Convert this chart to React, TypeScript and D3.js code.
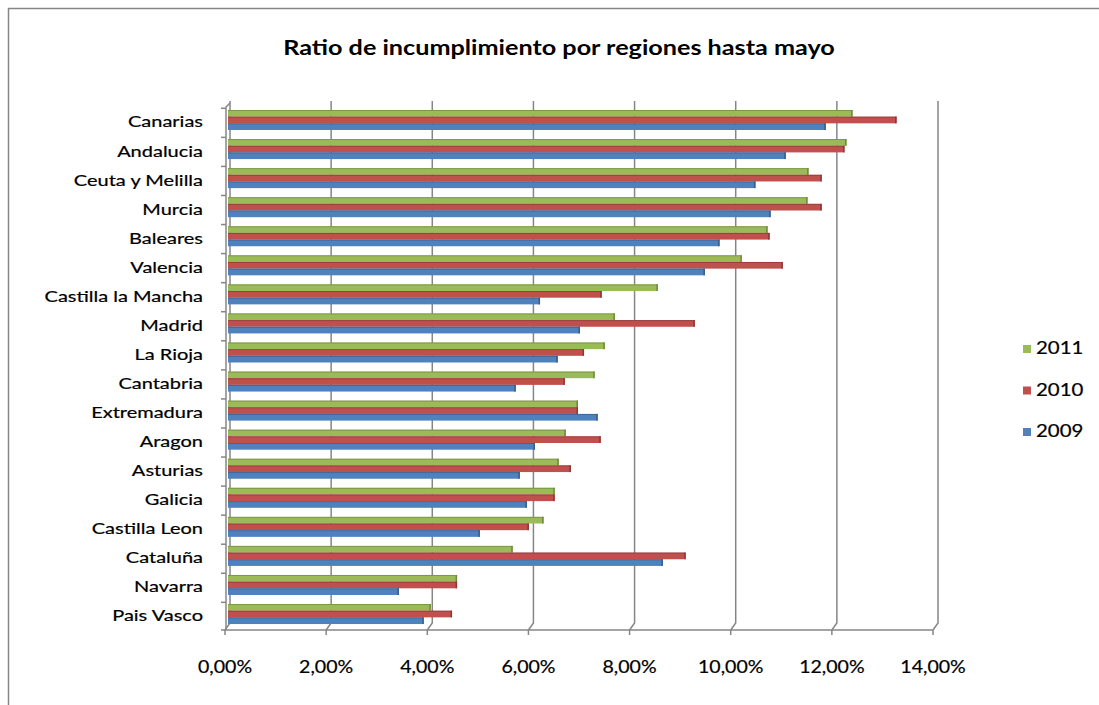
import React from "react";
import * as d3 from "d3";

const regions = [
  "Canarias", "Andalucia", "Ceuta y Melilla", "Murcia", "Baleares", "Valencia",
  "Castilla la Mancha", "Madrid", "La Rioja", "Cantabria", "Extremadura", "Aragon",
  "Asturias", "Galicia", "Castilla Leon", "Cataluña", "Navarra", "Pais Vasco",
];
const v2011 = [12.37, 12.25, 11.5, 11.48, 10.69, 10.18, 8.52, 7.67, 7.47, 7.27, 6.94, 6.7, 6.56, 6.48, 6.26, 5.65, 4.55, 4.03];
const v2010 = [13.24, 12.21, 11.76, 11.76, 10.73, 10.99, 7.41, 9.25, 7.06, 6.68, 6.94, 7.39, 6.8, 6.48, 5.97, 9.07, 4.55, 4.45];
const v2009 = [11.84, 11.05, 10.45, 10.75, 9.74, 9.45, 6.19, 6.98, 6.54, 5.71, 7.33, 6.09, 5.79, 5.93, 5.0, 8.62, 3.4, 3.89];
const seriesNames = ["2011", "2010", "2009"];
const seriesColors = ["#9BBB59", "#C0504D", "#4F81BD"];
const seriesDark = ["#71893F", "#8C3836", "#385D8A"];
const xTicks = [0, 2, 4, 6, 8, 10, 12, 14];
const title = "Ratio de incumplimiento por regiones hasta mayo";

const W = 1099;
const H = 705;
const FONT = "Lato, 'Open Sans', sans-serif";

export default function App() {
  const x = d3.scaleLinear().domain([0, 14]).range([227, 935]);
  const y = d3.scaleBand<string>().domain(regions).range([106.5, 629.6]).padding(0);
  const sub = d3.scaleBand<string>().domain(seriesNames).range([3.5, 23.5]).padding(0);
  const series = [v2011, v2010, v2009];
  const fmt = (v: number) => v.toFixed(2).replace(".", ",") + "%";
  const backTop = 101;
  const backBottom = 623;
  const frontY = 630;

  return (
    <svg width={W} height={H} style={{ position: "absolute", left: 0, top: 0 }}>
      <rect x={0} y={0} width={W} height={H} fill="#fff" />
      <rect x={8.5} y={8.5} width={W + 10} height={H + 10} fill="none" stroke="#868686" strokeWidth={1.5} />
      <g transform="translate(559,55) scale(1.2,1)">
        <text x={0} y={0} textAnchor="middle" fontFamily={FONT} fontWeight="bold" fontSize={21} fill="#000">
          {title}
        </text>
      </g>

      {/* back wall gridlines */}
      {xTicks.map((t) => (
        <path
          key={"g" + t}
          d={`M${x(t) + 3},${backTop} L${x(t) + 3},${backBottom} L${x(t) - 2},${frontY}`}
          fill="none"
          stroke="#868686"
          strokeWidth={1.5}
        />
      ))}
      {/* front axis */}
      <line x1={x(0) - 2} x2={x(14) - 2} y1={frontY} y2={frontY} stroke="#868686" strokeWidth={1.5} />
      {xTicks.map((t) => (
        <line key={"t" + t} x1={x(t) - 2} x2={x(t) - 2} y1={frontY} y2={frontY + 5} stroke="#868686" strokeWidth={1.5} />
      ))}
      {/* y axis */}
      <path d={`M${x(0) + 3},${backTop + 2} L${x(0) - 1},${backTop + 6} L${x(0) - 1},${frontY}`} fill="none" stroke="#868686" strokeWidth={1.5} />
      {regions.map((r) => (
        <line key={"yt" + r} x1={x(0) - 6} x2={x(0) - 1} y1={(y(r) as number) + 1.8} y2={(y(r) as number) + 1.8} stroke="#868686" strokeWidth={1.5} />
      ))}
      <line x1={x(0) - 6} x2={x(0) - 1} y1={frontY} y2={frontY} stroke="#868686" strokeWidth={1.5} />

      {/* bars */}
      {regions.map((r, i) => (
        <g key={"b" + r}>
          {series.map((vals, s) => {
            const by = (y(r) as number) + (sub(seriesNames[s]) as number);
            const bh = sub.bandwidth();
            const bx = x(0) + 1;
            const bw = x(vals[i]) - bx;
            return (
              <g key={s}>
                <rect x={bx} y={by} width={bw} height={bh} fill={seriesColors[s]} />
                <line x1={bx} x2={bx + bw} y1={by + 0.5} y2={by + 0.5} stroke={seriesDark[s]} strokeWidth={1} opacity={0.7} />
                <rect x={bx + bw - 1.5} y={by} width={1.5} height={bh} fill={seriesDark[s]} />
              </g>
            );
          })}
        </g>
      ))}

      {/* category labels */}
      {regions.map((r) => (
        <g key={"l" + r} transform={`translate(203,${(y(r) as number) + y.bandwidth() / 2 + 2.5}) scale(1.29,1)`}>
          <text
            x={0}
            y={0}
            textAnchor="end"
            dominantBaseline="middle"
            fontFamily={FONT}
            fontSize={15.5}
            fill="#000"
            stroke="#000"
            strokeWidth={0.2}
          >
            {r}
          </text>
        </g>
      ))}

      {/* x tick labels */}
      {xTicks.map((t) => (
        <g key={"xl" + t} transform={`translate(${x(t) - 2},673) scale(1.15,1)`}>
          <text x={0} y={0} textAnchor="middle" fontFamily={FONT} fontSize={17} fill="#000" stroke="#000" strokeWidth={0.2}>
            {fmt(t)}
          </text>
        </g>
      ))}

      {/* legend */}
      {seriesNames.map((n, s) => (
        <g key={"lg" + n}>
          <rect x={1023} y={345 + s * 41.5} width={8} height={8} fill={seriesColors[s]} />
          <g transform={`translate(1036,${350 + s * 41.5}) scale(1.2,1)`}>
            <text x={0} y={0} dominantBaseline="middle" fontFamily={FONT} fontSize={17} fill="#000" stroke="#000" strokeWidth={0.2}>
              {n}
            </text>
          </g>
        </g>
      ))}
    </svg>
  );
}
